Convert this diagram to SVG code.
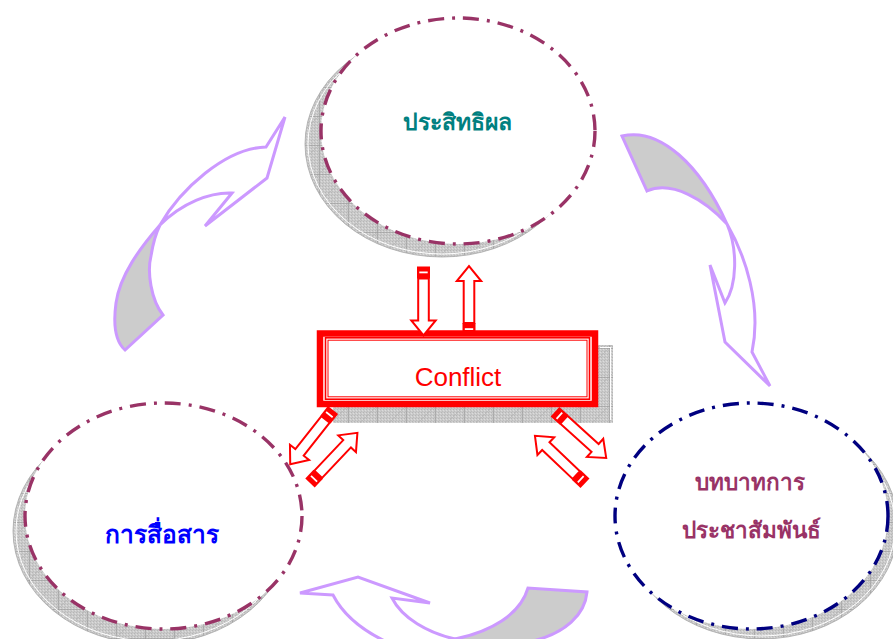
<svg xmlns="http://www.w3.org/2000/svg" xmlns:xlink="http://www.w3.org/1999/xlink" width="893" height="639" viewBox="0 0 893 639">
  <defs>
    <!-- stippled grey used for the drop shadows -->
    <pattern id="stipple" width="3" height="3" patternUnits="userSpaceOnUse">
      <rect width="3" height="3" fill="#cacaca"/>
      <rect x="0" y="0" width="1" height="1" fill="#b6b6b6"/>
      <rect x="2" y="1" width="1" height="1" fill="#dcdcdc"/>
      <rect x="1" y="2" width="1" height="1" fill="#bdbdbd"/>
    </pattern>
    <pattern id="shadowTile" width="29" height="29" patternUnits="userSpaceOnUse">
      <rect width="29" height="29" fill="url(#stipple)"/>
      <path d="M0,0.5 H29 M0.5,0 V29" stroke="#9a9a9a" stroke-width="0.6" fill="none"/>
      <path d="M0,29 L29,0" stroke="#a6a6a6" stroke-width="0.4" fill="none"/>
    </pattern>
    <!-- hollow red block arrow with a striped tail cap, pointing along +x -->
    <g id="redArrow">
      <rect x="0" y="-6.5" width="12" height="13" fill="#ff0000"/>
      <rect x="5" y="-4.2" width="1.8" height="8.4" fill="#ffffff"/>
      <path d="M12,-5.3 H54 V-12.2 L69,0 L54,12.2 V5.3 H12 Z" fill="#ffffff" stroke="#ff0000" stroke-width="2"/>
    </g>
  </defs>
  <style>
    .shadow { fill: url(#shadowTile); stroke: #a8a8a8; stroke-width: 0.8; }
    .shadowEdge { fill: none; stroke: #ffffff; stroke-width: 1; }
    .node { fill: #ffffff; stroke-width: 3.4; stroke-dasharray: 16 8 3 8; }
    .plum { stroke: #993366; }
    .navy { stroke: #000080; }
    .label { font-family: "Noto Sans", "DejaVu Sans", "Noto Sans CJK SC", sans-serif; font-weight: bold; text-anchor: middle; }
    .cycle { stroke: #cc99ff; stroke-width: 3; stroke-linejoin: miter; }
    .front { fill: #ffffff; }
    .back { fill: #cccccc; }
  </style>

  <!-- curved arrows circling the three factors -->
  <g id="cycle-arrows">
    <g id="cycle-left">
      <path class="cycle back" d="M160,225 C140,248 120,275 116,303 C113,325 116,342 125,350 L163,315 C151,300 147,272 151,256 C153,243 156,233 160,225 Z"/>
      <path class="cycle front" d="M160,225 C180,190 225,148 266,147 L285,117 L267,178 L205,226 L232,193 C210,192 182,203 160,225 Z"/>
    </g>
    <g id="cycle-right">
      <path class="cycle back" d="M622,136 C660,127 700,165 727,224 C705,200 672,180 647,191 Z"/>
      <path class="cycle front" d="M727,224 C745,255 762,305 752,352 L770,386 L725,342 L710,265 L725,303 C737,285 738,250 727,224 Z"/>
    </g>
    <g id="cycle-bottom">
      <path class="cycle back" d="M455,639 C490,632 520,615 528,588 L587,592 C585,615 565,633 533,641 L500,665 Z"/>
      <path class="cycle front" d="M333,595 L300,593 L358,577 L430,603 L392,598 C402,618 428,633 455,639 C470,642 482,646 492,652 L440,660 C390,648 350,628 333,595 Z"/>
    </g>
  </g>

  <!-- efficiency -->
  <g id="node-efficiency">
    <ellipse class="shadow" cx="442" cy="144" rx="137" ry="113"/>
    <ellipse class="shadowEdge" cx="442" cy="144" rx="134" ry="110"/>
    <ellipse class="node plum" cx="458" cy="131" rx="137" ry="113"/>
    <text class="label" x="457.5" y="130" font-size="23" fill="#008080">ประสิทธิผล</text>
  </g>

  <!-- communication -->
  <g id="node-communication">
    <ellipse class="shadow" cx="151.5" cy="531" rx="138.5" ry="113"/>
    <ellipse class="shadowEdge" cx="151.5" cy="531" rx="135.5" ry="110"/>
    <ellipse class="node plum" cx="163.5" cy="516" rx="138.5" ry="113"/>
    <text class="label" x="162" y="543" font-size="24.5" fill="#0000ff">การสื่อสาร</text>
  </g>

  <!-- public relations role -->
  <g id="node-pr">
    <ellipse class="shadow" cx="761.5" cy="526" rx="136.5" ry="113"/>
    <ellipse class="shadowEdge" cx="761.5" cy="526" rx="133.5" ry="110"/>
    <ellipse class="node navy" cx="751.5" cy="516" rx="136.5" ry="113"/>
    <text class="label" x="750" y="490" font-size="22.5" fill="#993366">บทบาทการ</text>
    <text class="label" x="751" y="538" font-size="22.5" fill="#993366">ประชาสัมพันธ์</text>
  </g>

  <!-- central conflict box -->
  <g id="node-conflict">
    <rect x="333" y="345" width="280" height="78" fill="url(#shadowTile)"/>
    <path d="M600,347.5 H611 M610.5,348 V420" stroke="#ffffff" stroke-width="1" fill="none"/>
    <rect x="320" y="333.5" width="275" height="70.5" fill="#ffffff" stroke="#ff0000" stroke-width="6.5"/>
    <rect x="325.5" y="337.8" width="264" height="61.4" fill="none" stroke="#ff0000" stroke-width="1.6"/>
    <rect x="328" y="340.2" width="259" height="56.6" fill="none" stroke="#ff0000" stroke-width="1"/>
    <text x="458" y="386" font-family="'Liberation Sans', Arial, sans-serif" font-size="26" fill="#ff0000" text-anchor="middle">Conflict</text>
  </g>

  <!-- two-way links between the box and each factor -->
  <g id="connectors">
    <use xlink:href="#redArrow" transform="translate(423.5,266.5) rotate(90)"/>
    <use xlink:href="#redArrow" transform="translate(469,335) rotate(-90)"/>
    <use xlink:href="#redArrow" transform="translate(333,410) rotate(128.3)"/>
    <use xlink:href="#redArrow" transform="translate(310,483) rotate(-46.6)"/>
    <use xlink:href="#redArrow" transform="translate(555,411.7) rotate(42.1)"/>
    <use xlink:href="#redArrow" transform="translate(585,483.3) rotate(223.5)"/>
  </g>
</svg>
